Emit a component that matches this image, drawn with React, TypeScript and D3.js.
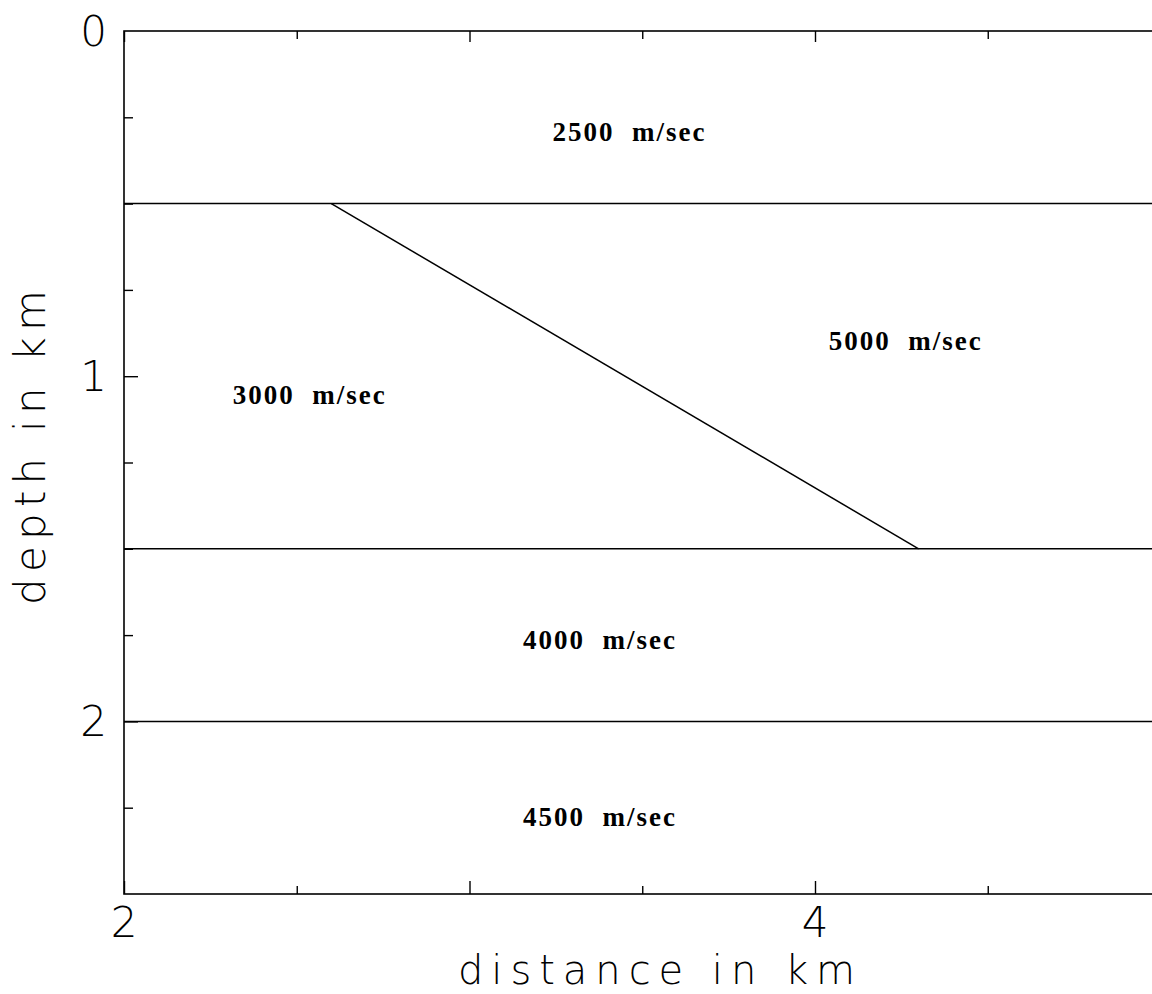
import React, { useEffect, useRef } from "react";
import * as d3 from "d3";

// ---- data (km) ----
const xDomain: [number, number] = [2, 5];
const yDomain: [number, number] = [0, 2.5];
const xTicksMajor = [2, 3, 4];
const xTicksMinor = [2.5, 3.5, 4.5];
const xTickLabels = [2, 4];
const yTicksMajor = [1, 2];
const yTicksMinor = [0.25, 0.5, 0.75, 1.25, 1.5, 1.75, 2.25];
const yTickLabels = [0, 1, 2];
// horizontal interfaces (depth, km)
const interfaces = [0.5, 1.5, 2.0];
// dipping boundary: [x km, depth km]
const dippingBoundary: [number, number][] = [
  [2.6, 0.5],
  [4.3, 1.5],
];
// velocity labels: text, x (km), depth (km) of baseline
const layerNames = ["2500 m/sec", "3000 m/sec", "5000 m/sec", "4000 m/sec", "4500 m/sec"];
const layerX = [3.24, 2.315, 4.04, 3.155, 3.155];
const layerDepth = [0.318, 1.08, 0.923, 1.79, 2.303];

const W = 1152;
const H = 994;

export default function App() {
  const ref = useRef<SVGSVGElement>(null);

  useEffect(() => {
    const svg = d3.select(ref.current);
    svg.selectAll("*").remove();

    const left = 124;
    const top = 31;
    const bottom = 894;
    const x = d3.scaleLinear().domain(xDomain).range([left, left + 3 * 345.5]);
    const y = d3.scaleLinear().domain(yDomain).range([top, bottom]);
    const [x0, x1] = x.range();

    const g = svg.append("g");
    const stroke = "#000";

    // frame
    g.append("rect")
      .attr("x", x0)
      .attr("y", top)
      .attr("width", x1 - x0)
      .attr("height", bottom - top)
      .attr("fill", "none")
      .attr("stroke", stroke)
      .attr("stroke-width", 1.6);

    // left axis ticks (inward)
    const leftMajor = d3.axisLeft(y).tickValues(yTicksMajor).tickSize(-14).tickFormat(() => "");
    const leftMinor = d3.axisLeft(y).tickValues(yTicksMinor).tickSize(-9).tickFormat(() => "");
    [leftMajor, leftMinor].forEach((ax) => {
      const a = g.append("g").attr("transform", `translate(${x0},0)`).call(ax);
      a.select(".domain").remove();
      a.selectAll("line").attr("stroke", stroke).attr("stroke-width", 1.4);
    });

    // bottom axis ticks (inward)
    const botMajor = d3.axisBottom(x).tickValues(xTicksMajor).tickSize(-13).tickFormat(() => "");
    const botMinor = d3.axisBottom(x).tickValues(xTicksMinor).tickSize(-8).tickFormat(() => "");
    [botMajor, botMinor].forEach((ax) => {
      const a = g.append("g").attr("transform", `translate(0,${bottom})`).call(ax);
      a.select(".domain").remove();
      a.selectAll("line").attr("stroke", stroke).attr("stroke-width", 1.4);
    });

    // top axis ticks (inward)
    const topMajor = d3.axisTop(x).tickValues(xTicksMajor).tickSize(-11).tickFormat(() => "");
    const topMinor = d3.axisTop(x).tickValues(xTicksMinor).tickSize(-8).tickFormat(() => "");
    [topMajor, topMinor].forEach((ax) => {
      const a = g.append("g").attr("transform", `translate(0,${top})`).call(ax);
      a.select(".domain").remove();
      a.selectAll("line").attr("stroke", stroke).attr("stroke-width", 1.4);
    });

    // interfaces
    g.selectAll("line.iface")
      .data(interfaces)
      .enter()
      .append("line")
      .attr("class", "iface")
      .attr("x1", x0)
      .attr("x2", x1)
      .attr("y1", (d) => y(d))
      .attr("y2", (d) => y(d))
      .attr("stroke", stroke)
      .attr("stroke-width", 1.5);

    const line = d3
      .line<[number, number]>()
      .x((d) => x(d[0]))
      .y((d) => y(d[1]));
    g.append("path")
      .attr("d", line(dippingBoundary) as string)
      .attr("fill", "none")
      .attr("stroke", stroke)
      .attr("stroke-width", 1.5);

    // layer labels
    g.selectAll("text.layer")
      .data(layerNames)
      .enter()
      .append("text")
      .attr("class", "layer")
      .attr("x", (_, i) => x(layerX[i]))
      .attr("y", (_, i) => y(layerDepth[i]))
      .attr("xml:space", "preserve")
      .attr("font-family", "'Liberation Serif', serif")
      .attr("font-weight", "bold")
      .attr("font-size", 27)
      .attr("letter-spacing", 2)
      .attr("fill", stroke)
      .text((d) => d.replace(" ", "  "));

    const axisFont = "'DejaVu Sans', sans-serif";

    // y tick labels
    g.selectAll("text.ylab")
      .data(yTickLabels)
      .enter()
      .append("text")
      .attr("class", "ylab")
      .attr("x", 107)
      .attr("y", (d) => Math.max(y(d), 26) + 15)
      .attr("text-anchor", "end")
      .attr("font-family", axisFont)
      .attr("font-weight", 200)
      .attr("font-size", 42)
      .attr("fill", stroke)
      .text((d) => String(d));

    // x tick labels
    g.selectAll("text.xlab")
      .data(xTickLabels)
      .enter()
      .append("text")
      .attr("class", "xlab")
      .attr("x", (d) => x(d))
      .attr("y", 937)
      .attr("text-anchor", "middle")
      .attr("font-family", axisFont)
      .attr("font-weight", 200)
      .attr("font-size", 42)
      .attr("fill", stroke)
      .text((d) => String(d));

    // axis titles
    g.append("text")
      .attr("x", 458)
      .attr("y", 984)
      .attr("font-family", axisFont)
      .attr("font-weight", 200)
      .attr("font-size", 40)
      .attr("textLength", 397)
      .attr("lengthAdjust", "spacing")
      .attr("fill", stroke)
      .text("distance in km");

    g.append("text")
      .attr("transform", "translate(45,605) rotate(-90)")
      .attr("font-family", axisFont)
      .attr("font-weight", 200)
      .attr("font-size", 42)
      .attr("textLength", 315)
      .attr("lengthAdjust", "spacing")
      .attr("fill", stroke)
      .text("depth in km");
  }, []);

  return (
    <svg
      ref={ref}
      width={W}
      height={H}
      style={{ position: "absolute", left: 0, top: 0, background: "#fff" }}
    />
  );
}
